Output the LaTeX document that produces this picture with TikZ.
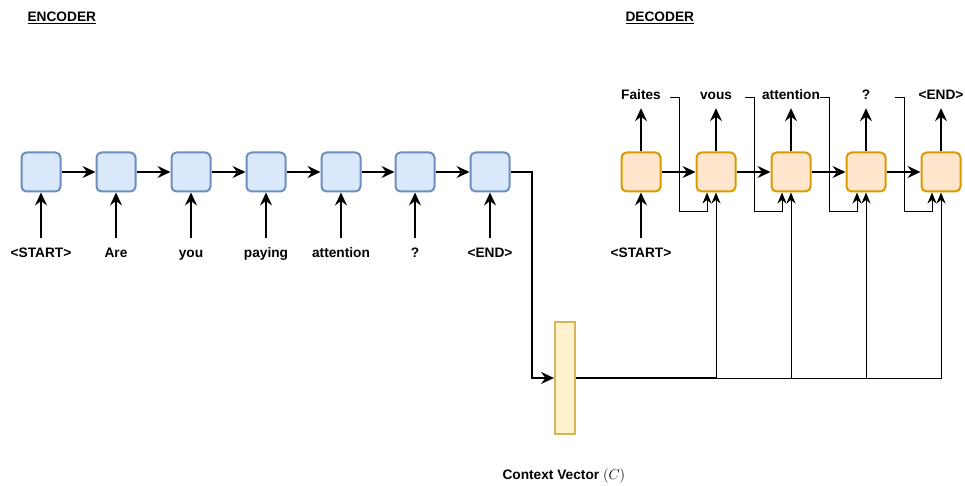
\documentclass[tikz,border=0pt]{standalone}
\usepackage[no-math]{fontspec}
\newfontfamily\lsans{Liberation Sans}
\usetikzlibrary{arrows.meta,calc}
\definecolor{encfill}{HTML}{DAE8FC}
\definecolor{encline}{HTML}{6C8EBF}
\definecolor{decfill}{HTML}{FFE6CC}
\definecolor{decline}{HTML}{D79B00}
\definecolor{ctxfill}{HTML}{FFF2CC}
\definecolor{ctxline}{HTML}{D6B656}
\tikzset{
  every node/.style={font=\lsans\bfseries\fontsize{13.7}{16}\selectfont},
  cell/.style={rounded corners=5pt,line width=2pt,minimum width=39pt,minimum height=39pt,inner sep=0pt},
  enccell/.style={cell,draw=encline,fill=encfill},
  deccell/.style={cell,draw=decline,fill=decfill},
  word/.style={minimum width=58pt,minimum height=28pt,inner sep=0pt,text height=10pt,text depth=3pt},
  tip/.style={-{Stealth[length=13pt,width=12pt,inset=4.5pt]}},
  thick link/.style={tip,line width=2pt},
  mid link/.style={tip,line width=1.6pt},
  thin link/.style={line width=1pt,-{Stealth[length=11pt,width=9pt,inset=3.5pt]}},
}
\begin{document}
\begin{tikzpicture}[x=1pt,y=-1pt]
\useasboundingbox (0,0) rectangle (965,486);

% headings
\node[anchor=west] (enchead) at (24,18) {\underline{ENCODER}};
\node[anchor=west] (dechead) at (622,18) {\underline{DECODER}};

% encoder cells and their input tokens
\foreach \i/\cx/\t in {1/41/{<START>},2/116/Are,3/191/you,4/266/paying,5/341/attention,6/415/?,7/490/{<END>}}{
  \node[enccell] (e\i) at (\cx,172) {};
  \node[word] (ein\i) at (\cx,254) {\t};
  \draw[thick link] ([yshift=2]ein\i.north) -- (e\i.south);
}
\foreach \i [evaluate=\i as \j using int(\i+1)] in {1,...,6}{
  \draw[thick link] (e\i.east) -- (e\j.west);
}

% context vector
\node[draw=ctxline,fill=ctxfill,line width=2pt,minimum width=20pt,minimum height=112pt,inner sep=0pt] (cv) at (565,378) {};
\node[anchor=west] (cvlabel) at (499,476) {Context Vector $(C)$};
\coordinate (turn) at (532,172);
\draw[thick link] (e7.east) -- (turn) |- (cv.west);

% decoder cells and their output tokens
\foreach \i/\t in {1/Faites,2/vous,3/attention,4/?,5/{<END>}}{
  \pgfmathsetmacro\cx{641+75*(\i-1)}
  \node[deccell] (d\i) at (\cx,172) {};
  \node[word] (dout\i) at (\cx,96) {\t};
  \draw[mid link] (d\i.north) -- ([yshift=2]dout\i.south);
}
\node[word] (dstart) at (641,254) {<START>};
\draw[mid link] ([yshift=2]dstart.north) -- (d1.south);
\foreach \i [evaluate=\i as \j using int(\i+1)] in {1,...,4}{
  \draw[thick link] (d\i.east) -- (d\j.west);
}

% context vector feeds every later decoder cell
\draw[line width=2pt] (cv.east) -- ($(cv.east -| d2.south)$);
\foreach \i in {2,...,5}{
  \draw[thin link] (cv.east) -| (d\i.south);
}

% previous output fed back as the next input
\foreach \i [evaluate=\i as \j using int(\i+1)] in {1,...,4}{
  \draw[thin link] ([yshift=-2]dout\i.east) -- ++(9,0) |- ($(d\j.south)+(-9,19)$) -- ($(d\j.south)+(-9,0)$);
}
\end{tikzpicture}
\end{document}
